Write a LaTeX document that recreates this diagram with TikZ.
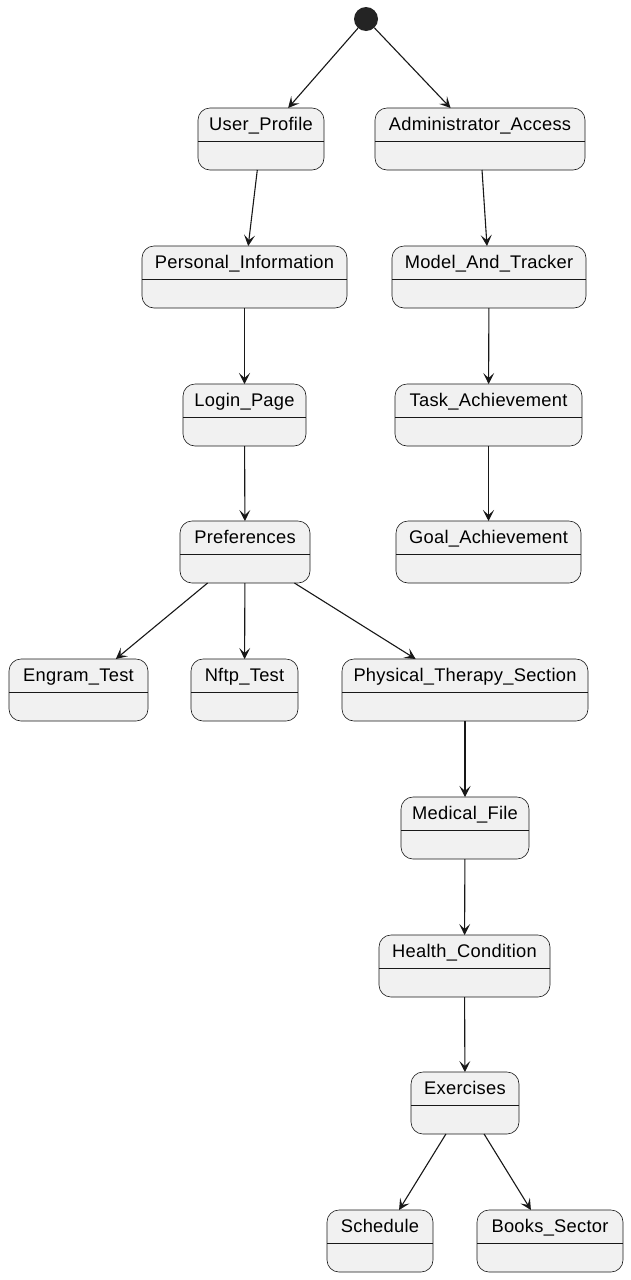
\documentclass[tikz,border=0pt]{standalone}
\usepackage{fontspec}
\setmainfont[LetterSpace=1.5]{Liberation Sans}
\usetikzlibrary{arrows.meta}
\definecolor{boxfill}{HTML}{F1F1F1}
\definecolor{ink}{HTML}{181818}
\newcommand\stbox[6]{%
  \node[stbox, minimum width={(#4-#2)*1pt}, minimum height={(#5-#3)*1pt}] (#1) at ({(#2+#4)/2},{(#3+#5)/2}) {};
  \draw[divline] ([yshift=-33pt]#1.north west) -- ([yshift=-33pt]#1.north east);
  \node[lbl] (#1-t) at ([yshift=-22pt]#1.north) {#6};
}
\begin{document}
\begin{tikzpicture}[x=1pt,y=-1pt,
  stbox/.style={draw=ink, line width=0.6pt, fill=boxfill, rounded corners=12pt, inner sep=0pt, outer sep=0pt},
  divline/.style={draw=ink, line width=0.6pt},
  lbl/.style={anchor=base, inner sep=0pt, font=\fontsize{18.3}{20}\selectfont, text=black},
  edge/.style={draw=ink, line width=1.1pt, -{Stealth[length=11pt,width=11pt,inset=5pt]}},
  startdot/.style={circle, fill=ink!95!white, minimum size=24pt, inner sep=0pt}]
\useasboundingbox[fill=white] (0,0) rectangle (631,1280);
\node[startdot] (start) at (366,19) {};
\stbox{up}{198}{108}{324}{170}{User\_Profile}
\stbox{adm}{375}{108}{585}{170}{Administrator\_Access}
\stbox{pi}{142}{246}{347}{308}{Personal\_Information}
\stbox{mat}{392}{246}{586}{308}{Model\_And\_Tracker}
\stbox{lp}{183}{384}{306}{446}{Login\_Page}
\stbox{ta}{395}{384}{582}{446}{Task\_Achievement}
\stbox{pref}{180}{521}{310}{583}{Preferences}
\stbox{ga}{396}{521}{581}{583}{Goal\_Achievement}
\stbox{et}{9}{659}{148}{721}{Engram\_Test}
\stbox{nt}{191}{659}{298}{721}{Nftp\_Test}
\stbox{pts}{342}{659}{588}{721}{Physical\_Therapy\_Section}
\stbox{mf}{401}{797}{529}{859}{Medical\_File}
\stbox{hc}{379}{935}{550}{997}{Health\_Condition}
\stbox{ex}{411}{1072}{519}{1134}{Exercises}
\stbox{sch}{327}{1210}{433}{1272}{Schedule}
\stbox{bs}{477}{1210}{623}{1272}{Books\_Sector}
\draw[edge] (start) -- (up);
\draw[edge] (start) -- (adm);
\draw[edge] (up) -- (pi);
\draw[edge] (adm) -- (mat);
\draw[edge] (pi) -- (lp);
\draw[edge] (mat) -- (ta);
\draw[edge] (lp) -- (pref);
\draw[edge] (ta) -- (ga);
\draw[edge] (pref) -- (et);
\draw[edge] (pref) -- (nt);
\draw[edge] (pref) -- (pts);
\draw[edge] (pts) -- (mf);
\draw[edge] (mf) -- (hc);
\draw[edge] (hc) -- (ex);
\draw[edge] (ex) -- (sch);
\draw[edge] (ex) -- (bs);
\end{tikzpicture}
\end{document}
